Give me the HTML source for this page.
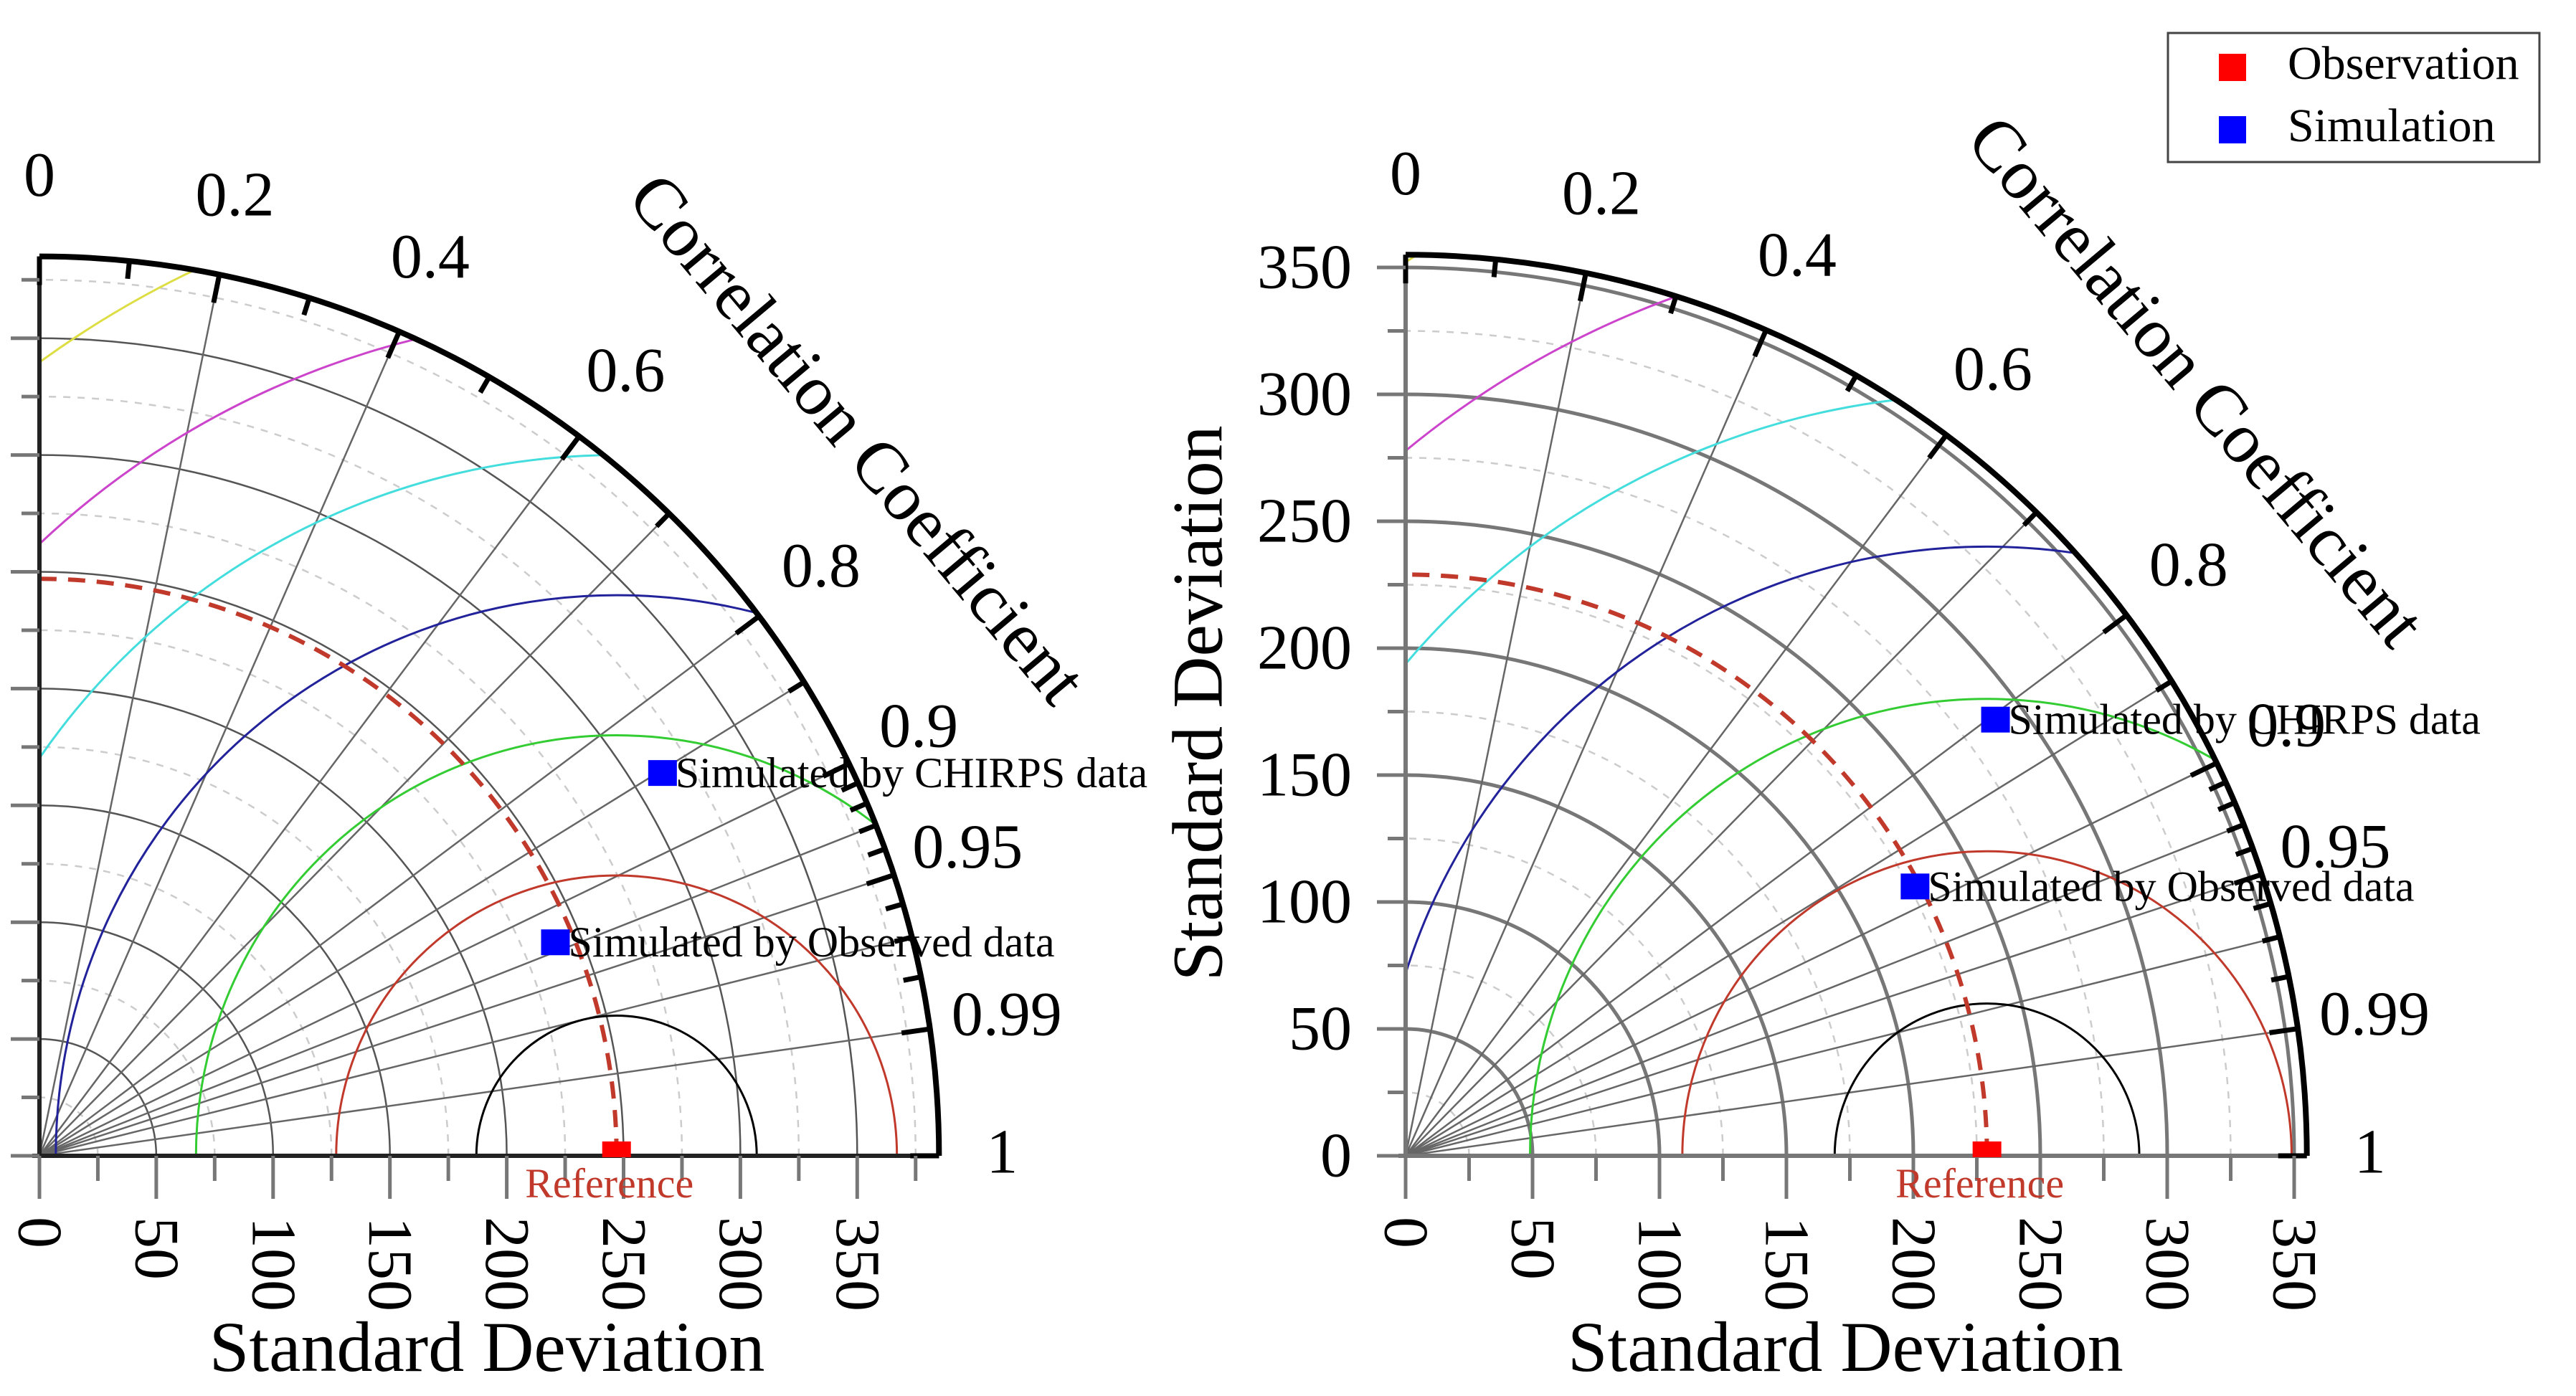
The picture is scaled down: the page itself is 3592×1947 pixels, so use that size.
<!DOCTYPE html>
<html><head><meta charset="utf-8"><style>
html,body{margin:0;padding:0;background:#fff;overflow:hidden;width:3592px;height:1947px;}
svg{display:block;font-family:"Liberation Serif",serif;}
</style></head><body>
<svg id="chart" width="3592" height="1947" viewBox="0 0 3592 1947" xmlns="http://www.w3.org/2000/svg">
<g>
<rect x="3023" y="46" width="518" height="180" fill="#fff" stroke="#444" stroke-width="3"/>
<rect x="3094" y="75" width="38" height="38" fill="#f00"/>
<text x="3190" y="110" font-size="66">Observation</text>
<rect x="3094" y="162" width="38" height="38" fill="#00f"/>
<text x="3190" y="197" font-size="66">Simulation</text>
</g>
</svg>
<script>
const corrGrid = [0.2,0.4,0.6,0.7,0.8,0.85,0.9,0.93,0.95,0.97,0.99];
const corrLabels = [0,0.2,0.4,0.6,0.8,0.9,0.95,0.99,1];
const corrMinor = [0.1,0.3,0.5,0.7,0.85,0.91,0.92,0.93,0.94,0.96,0.97,0.98];
const rmsLevels = [60,120,180,240,300,360,420];
const rmsColors = ['#000','#c0392b','#3c3','#22229a','#4dd','#c4c','#dd4'];
const stdTicks = [0,50,100,150,200,250,300,350];
const leftRef = 247, rightRef = 229;
const leftPointsStd = [313, 239];
const leftPointsCorr = [0.852, 0.924];
const rightPointsStd = [289, 227];
const rightPointsCorr = [0.804, 0.884];
const pointNames = ['Simulated by CHIRPS data','Simulated by Observed data'];

const NS='http://www.w3.org/2000/svg';
const svg=document.getElementById('chart');
function mk(tag,attrs,parent,text){const e=document.createElementNS(NS,tag);for(const k in attrs)e.setAttribute(k,attrs[k]);if(text!==undefined)e.textContent=text;(parent||svg).appendChild(e);return e;}

function panel(id,ox,oy,k,rmax,ref,pStd,pCorr,showY,thickGrid,xtDx,ctDx,ctDy){
  const g=mk('g',{});
  
  
  const X=(s,c)=>ox+s*k*c, Y=(s,c)=>oy-s*k*Math.sqrt(Math.max(0,1-c*c));
  const R=rmax*k;
  const cid=id+'-clip';
  const defs=mk('defs',{},g);
  const cp=mk('clipPath',{id:cid},defs);
  mk('path',{d:`M${ox},${oy} L${ox+R},${oy} A${R},${R} 0 0 0 ${ox},${oy-R} Z`},cp);
  const clip=mk('g',{'clip-path':`url(#${cid})`},g);
  for(let s=25;s<rmax;s+=25){
    const r=s*k, solid=s%50===0;
    const a=mk('path',{d:`M${ox+r},${oy} A${r},${r} 0 0 0 ${ox},${oy-r}`,fill:'none',stroke:solid?(thickGrid?'#777':'#555'):'#ccc','stroke-width':solid?(thickGrid?5:2.5):2.5,'stroke-dasharray':solid?'none':'10 10'},clip);
    
    
  }
  corrGrid.forEach(c=>{
    const l=mk('line',{x1:ox,y1:oy,x2:X(rmax,c),y2:Y(rmax,c),stroke:'#666','stroke-width':2.5},clip);
    
    
  });
  rmsLevels.forEach((v,i)=>{
    const c=mk('circle',{cx:ox+ref*k,cy:oy,r:v*k,fill:'none',stroke:rmsColors[i],'stroke-width':3},clip);
    
    
  });
  const rr=ref*k;
  const da=mk('path',{d:`M${ox+rr},${oy} A${rr},${rr} 0 0 0 ${ox},${oy-rr}`,fill:'none',stroke:'#c0392b','stroke-width':6,'stroke-dasharray':'24 16'},g);
  
  
  const ax=mk('path',{d:`M${ox-10},${oy} L${ox+R},${oy} M${ox},${oy} L${ox},${oy-R}`,stroke:thickGrid?'#777':'#222','stroke-width':6,fill:'none'},g);
  
  
  const arc=mk('path',{d:`M${ox+R},${oy} A${R},${R} 0 0 0 ${ox},${oy-R}`,fill:'none',stroke:'#000','stroke-width':8},g);
  
  
  corrLabels.concat(corrMinor).forEach((c,i)=>{
    const len=i<corrLabels.length?40:25;
    const t=mk('line',{x1:X(rmax,c),y1:Y(rmax,c),x2:X(rmax-len/k,c),y2:Y(rmax-len/k,c),stroke:'#000','stroke-width':7},g);
    
    
  });
  corrLabels.forEach(c=>{
    const rl=rmax+108/k;
    const t=mk('text',{x:X(rl,c)-(c===1?20:0),y:Y(rl,c)-5,'font-size':88,'text-anchor':'middle','dominant-baseline':'central'},g,String(c));
    
    
  });
  for(let s=0;s<=rmax;s+=25){
    const maj=s%50===0;
    const tx=mk('line',{x1:ox+s*k,y1:oy,x2:ox+s*k,y2:oy+(maj?60:35),stroke:'#777','stroke-width':5},g);
    
    
    const ty=mk('line',{x1:ox,y1:oy-s*k,x2:ox-(maj?40:25),y2:oy-s*k,stroke:'#777','stroke-width':5},g);
    
    
  }
  stdTicks.forEach(s=>{
    const x=ox+s*k, y=oy+85;
    const t=mk('text',{x:x,y:y,'font-size':88,'dominant-baseline':'central',transform:`rotate(90 ${x} ${y})`},g,String(s));
    
    
    if(showY){
      const u=mk('text',{x:ox-75,y:oy-s*k,'font-size':88,'text-anchor':'end','dominant-baseline':'central'},g,String(s));
      
      
    }
  });
  const rm=mk('rect',{x:ox+ref*k-20,y:oy-20,width:40,height:22,fill:'#f00'},g);
  
  
  const rt=mk('text',{x:ox+ref*k-10,y:oy+58,'font-size':58,fill:'#c0392b','text-anchor':'middle'},g,'Reference');
  
  
  pStd.forEach((s,i)=>{
    const px=X(s,pCorr[i]), py=Y(s,pCorr[i]);
    const m=mk('rect',{x:px-20,y:py-18,width:40,height:36,fill:'#00f'},g);
    
    
    const t=mk('text',{x:px+18,y:py+20,'font-size':60},g,pointNames[i]);
    
    
  });
  const xt=mk('text',{x:ox+rmax*k*0.5+45+xtDx,y:oy+300,'font-size':100,'text-anchor':'middle'},g,'Standard Deviation');
  
  
  const cx=ox+R*0.83+20+ctDx, cy=oy-R*0.86+60+ctDy;
  const ct=mk('text',{x:cx,y:cy,'font-size':100,'text-anchor':'middle','dominant-baseline':'central',transform:`rotate(50 ${cx} ${cy})`},g,'Correlation Coefficient');
  
  
  if(showY){
    const yx=ox-290, yy=oy-R*0.55+60;
    const yt=mk('text',{x:yx,y:yy,'font-size':100,'text-anchor':'middle','dominant-baseline':'central',transform:`rotate(-90 ${yx} ${yy})`},g,'Standard Deviation');
    
    
  }
}
panel('left',55,1612,3.258,385,leftRef,leftPointsStd,leftPointsCorr,false,false,-48,80,18);
panel('right',1960,1612,3.54,355,rightRef,rightPointsStd,rightPointsCorr,true,true,-60,40,-60);
</script>
</body></html>
